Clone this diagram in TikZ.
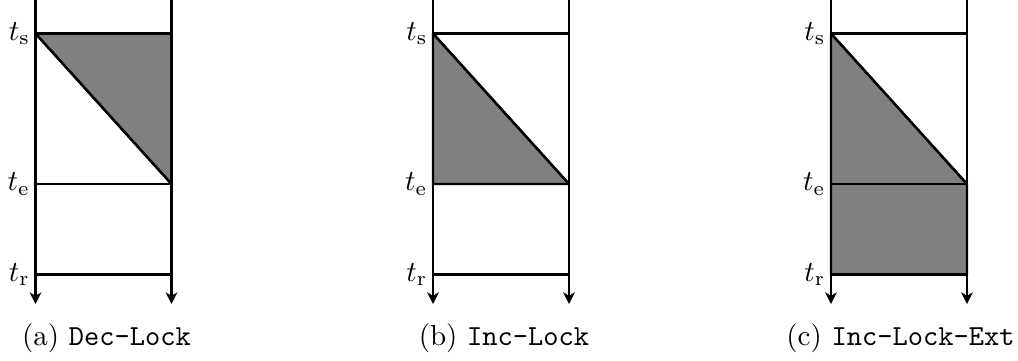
\documentclass[tikz,border=0pt]{standalone}
\usetikzlibrary{arrows.meta}

\begin{document}
\begin{tikzpicture}[
    x=0.0121cm, y=-0.0121cm,
    axis/.style={-{Stealth[length=4pt,width=4pt,inset=1.2pt]}, thick},
    tline/.style={thick},
    lock/.style={fill=gray, draw=black, thick, line join=round},
    tlab/.style={anchor=east, inner sep=1.7pt},
    captext/.style={anchor=base}
]
    \useasboundingbox (0,0) rectangle (1018,360);
    % time points of the three panels
    \foreach \p/\x in {a/35.5, b/433, c/831} {
        \coordinate (\p-top-l) at (\x,0);
        \coordinate (\p-top-r) at (\x+136,0);
        \coordinate (\p-ts-l) at (\x,33.5);
        \coordinate (\p-ts-r) at (\x+136,33.5);
        \coordinate (\p-te-l) at (\x,184);
        \coordinate (\p-te-r) at (\x+136,184);
        \coordinate (\p-tr-l) at (\x,274.5);
        \coordinate (\p-tr-r) at (\x+136,274.5);
        \coordinate (\p-end-l) at (\x,304);
        \coordinate (\p-end-r) at (\x+136,304);
    }
    % locked areas
    \draw[lock] (a-ts-l) -- (a-ts-r) -- (a-te-r) -- cycle;
    \draw[lock] (b-ts-l) -- (b-te-r) -- (b-te-l) -- cycle;
    \draw[lock] (c-ts-l) -- (c-te-r) -- (c-tr-r) -- (c-tr-l) -- cycle;
    % axes and time lines
    \foreach \p in {a, b, c} {
        \draw[axis] (\p-top-l) -- (\p-end-l);
        \draw[axis] (\p-top-r) -- (\p-end-r);
        \draw[tline] (\p-ts-l) -- (\p-ts-r);
        \draw[tline] (\p-te-l) -- (\p-te-r);
        \draw[tline] (\p-tr-l) -- (\p-tr-r);
        \draw[tline] (\p-ts-l) -- (\p-te-r);
        \node[tlab] (\p-ts) at (\p-ts-l) {$t_\mathrm{s}$};
        \node[tlab] (\p-te) at (\p-te-l) {$t_\mathrm{e}$};
        \node[tlab] (\p-tr) at (\p-tr-l) {$t_\mathrm{r}$};
    }
    \node[captext] (a-cap) at (106.5,345) {(a) \texttt{Dec-Lock}};
    \node[captext] (b-cap) at (504,345) {(b) \texttt{Inc-Lock}};
    \node[captext] (c-cap) at (900.5,345) {(c) \texttt{Inc-Lock-Ext}};
\end{tikzpicture}
\end{document}
